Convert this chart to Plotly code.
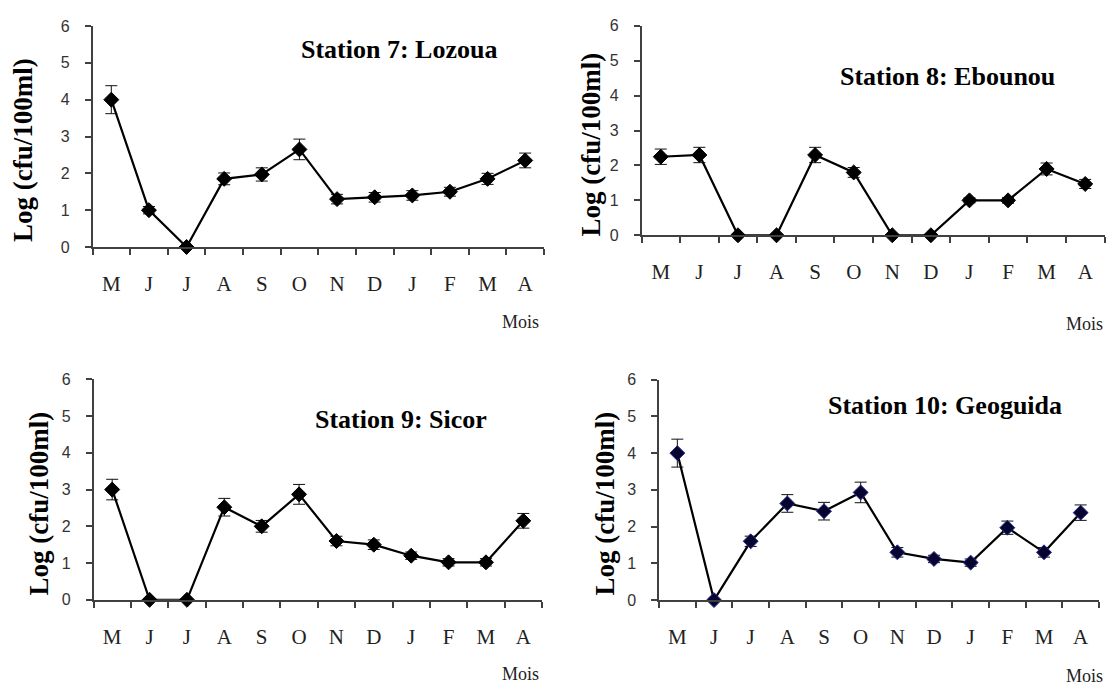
import plotly.graph_objects as go

W, H = 1109, 692

months = ["M", "J", "J", "A", "S", "O", "N", "D", "J", "F", "M", "A"]

s7 = [4.0, 1.0, 0.0, 1.85, 1.97, 2.65, 1.3, 1.35, 1.4, 1.5, 1.85, 2.35]
e7 = [0.38, 0.1, 0.0, 0.16, 0.18, 0.28, 0.13, 0.13, 0.13, 0.12, 0.15, 0.2]

s8 = [2.25, 2.3, 0.0, 0.0, 2.3, 1.8, 0.0, 0.0, 1.0, 1.0, 1.9, 1.47]
e8 = [0.22, 0.22, 0.0, 0.0, 0.22, 0.14, 0.0, 0.0, 0.07, 0.08, 0.17, 0.13]

s9 = [3.0, 0.0, 0.0, 2.52, 2.0, 2.87, 1.6, 1.5, 1.2, 1.02, 1.02, 2.15]
e9 = [0.28, 0.0, 0.0, 0.24, 0.16, 0.27, 0.13, 0.13, 0.1, 0.1, 0.1, 0.2]

s10 = [4.0, 0.0, 1.6, 2.63, 2.42, 2.93, 1.3, 1.12, 1.02, 1.97, 1.3, 2.38]
e10 = [0.38, 0.0, 0.14, 0.24, 0.24, 0.28, 0.13, 0.1, 0.1, 0.18, 0.13, 0.21]

titles = ["Station 7: Lozoua", "Station 8: Ebounou", "Station 9: Sicor", "Station 10: Geoguida"]
ytitle = "Log (cfu/100ml)"
xtitle = "Mois"
yticks = [0, 1, 2, 3, 4, 5, 6]

series = [(s7, e7), (s8, e8), (s9, e9), (s10, e10)]

# panel geometry in pixels: x0, x1, ytop, ybot
geom = [
    (92.5, 544, 18.5, 245),
    (641.5, 1104.5, 18.3, 233),
    (93.5, 542, 380.7, 606.7),
    (659, 1099, 381, 607),
]
title_pos = [(399, 43), (947, 70), (401, 422), (945, 407)]
ytitle_pos = [(23.5, 146), (591, 140), (39, 508), (605, 508)]
mois_pos = [(541, 322), (1105, 324), (541, 683), (1105, 685)]

marker_colors = ["#000000", "#000000", "#000000", "#050530"]
marker_lines = ["#000000", "#000000", "#000000", "#2a2a8c"]

fig = go.Figure()
layout = dict(
    width=W, height=H,
    margin=dict(l=0, r=0, t=0, b=0),
    paper_bgcolor="white", plot_bgcolor="white",
    showlegend=False,
    annotations=[],
)

def px(x):
    return x / W

def py(y):
    return 1 - y / H

xidx = list(range(len(months)))

for i, ((vals, errs), (x0, x1, yt, yb)) in enumerate(zip(series, geom)):
    n = "" if i == 0 else str(i + 1)
    xa = "x" + n
    ya = "y" + n
    fig.add_trace(go.Scatter(
        x=xidx, y=vals, xaxis=xa, yaxis=ya,
        mode="lines+markers",
        line=dict(color="black", width=2.2),
        marker=dict(symbol="diamond", size=11.5, color=marker_colors[i],
                    line=dict(color=marker_lines[i], width=1)),
        error_y=dict(type="data", array=errs, visible=True,
                     color="#111111", thickness=1, width=6),
        cliponaxis=False,
    ))
    layout["xaxis" + n] = dict(
        domain=[px(x0), px(x1)], anchor=ya,
        range=[-0.5, len(months) - 0.5],
        tickvals=xidx, ticktext=months,
        ticks="", showgrid=False, zeroline=False,
        showline=True, linecolor="#404040", linewidth=1.5,
        tickfont=dict(family="Liberation Serif", size=21, color="#222222"),
        ticklabelstandoff=17,
        minor=dict(ticks="outside", tick0=-0.5, dtick=1, ticklen=6,
                   tickcolor="#404040", tickwidth=1.5, showgrid=False),
        fixedrange=True,
    )
    layout["yaxis" + n] = dict(
        domain=[py(yb), py(yt)], anchor=xa,
        range=[0, 6], tickvals=yticks,
        ticks="outside", ticklen=6, tickwidth=1.5, tickcolor="#404040",
        showgrid=False, zeroline=False,
        showline=True, linecolor="#404040", linewidth=1.5,
        tickfont=dict(family="Liberation Sans", size=16, color="#333333"),
        ticklabelstandoff=12,
        fixedrange=True,
    )
    tx, ty = title_pos[i]
    layout["annotations"].append(dict(
        x=px(tx), y=py(ty), xref="paper", yref="paper",
        text="<b>" + titles[i] + "</b>", showarrow=False,
        xanchor="center", yanchor="middle",
        font=dict(family="Liberation Serif", size=26, color="black"),
    ))
    yx, yy = ytitle_pos[i]
    layout["annotations"].append(dict(
        x=px(yx), y=py(yy), xref="paper", yref="paper",
        text="<b>" + ytitle + "</b>", showarrow=False, textangle=-90,
        xanchor="center", yanchor="middle",
        font=dict(family="Liberation Serif", size=27, color="black"),
    ))
    mx, my = mois_pos[i]
    layout["annotations"].append(dict(
        x=px(mx), y=py(my), xref="paper", yref="paper",
        text=xtitle, showarrow=False,
        xanchor="right", yanchor="middle",
        font=dict(family="Liberation Serif", size=18, color="#222222"),
    ))

fig.update_layout(**layout)
fig.write_html("out.html")
